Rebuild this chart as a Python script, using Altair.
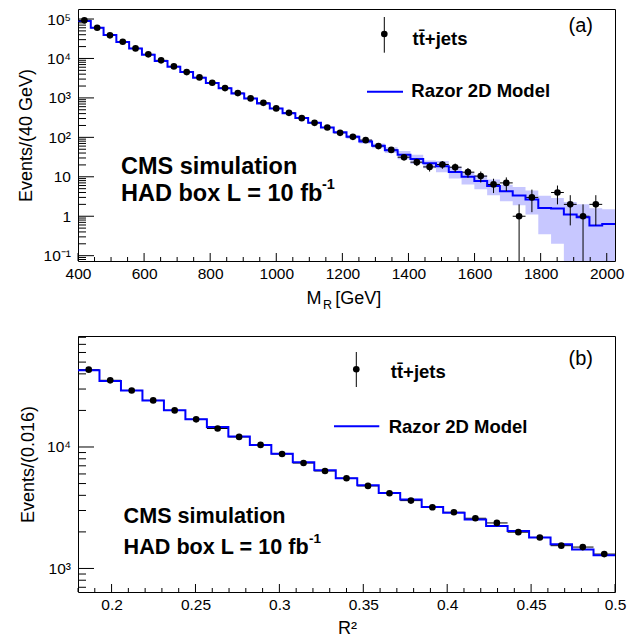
import altair as alt
import pandas as pd
import numpy as np

FONT = "Liberation Sans"
BLUE = "#0000ff"

# ---------------- panel (a): M_R distribution ----------------
mr_range = [400, 2025]
mr_nbins = 42
mr_counts = [92600, 60000, 38500, 26500, 18000, 12700, 8950, 6300, 4520, 3310,
             2415, 1773, 1324, 971, 751, 541, 419, 307, 233, 178,
             130, 103, 85, 60, 48, 31.4, 23.5, 17.8, 20.5, 17.5,
             13.1, 10.4, 6.4, 7, 1, 3, None, 4, 2, 1, 2, None]
mr_model = [89000, 60000, 39300, 26000, 18000, 12400, 8600, 6160, 4520, 3240,
            2400, 1760, 1300, 960, 720, 540, 410, 310, 235, 178,
            135, 103, 79, 61, 47, 36, 28.3, 22, 18.5, 13.3,
            10, 7.8, 5.8, 4.3, 3.35, 2.65, 1.62, 1.57, 1.1, 0.94, 0.58, 0.64]
mr_band_first_bin = 21
mr_band_lo = [92, 70, 53, 40, 28, 21, 16.5, 13, 9, 6.4, 4.8, 3.4, 2.4, 1.9, 1.1,
              0.35, 0.2, 0.05, 0.05, 0.05, 0.05]
mr_band_hi = [115, 90, 70, 56, 45, 36, 26, 25, 18, 13, 11, 8.5, 6.3, 5.5, 4.5,
              3.3, 2.9, 2.3, 2.0, 1.6, 1.5]
mr_xlabels = list(range(400, 2001, 200))
mr_xminor = [v for v in range(400, 2001, 50) if v % 200 != 0]
mr_ydomain = [0.0733, 1.795e5]
mr_ylabels = [0.1, 1, 10, 100, 1000, 10000, 100000]

# ---------------- panel (b): R^2 distribution ----------------
r2_range = [0.18, 0.5]
r2_nbins = 25
r2_counts = [43300, 35400, 29200, 24200, 20000, 16900, 14200, 12100, 10400, 8760,
             7380, 6350, 5530, 4780, 4160, 3620, 3190, 2900, 2590, 2370,
             1990, 1800, 1540, 1500, 1313]
r2_model = [42800, 34900, 29200, 24200, 20100, 16900, 14600, 12200, 10400, 8810,
            7480, 6430, 5530, 4840, 4190, 3690, 3210, 2870, 2530, 2240,
            2030, 1800, 1585, 1430, 1285]
r2_xlabels = [0.2, 0.25, 0.3, 0.35, 0.4, 0.45, 0.5]
r2_xminor = [round(0.18 + 0.01 * i, 2) for i in range(33)
             if abs(round(0.18 + 0.01 * i, 2) * 20 - round((0.18 + 0.01 * i) * 20)) > 1e-6]
r2_ydomain = [640, 82000]
r2_ylabels = [1000, 10000]

W = 537
H_TOP = 252
H_BOT = 256


def log_minor(lo, hi):
    out = []
    for e in range(-3, 7):
        for m in range(2, 10):
            v = m * 10.0 ** e
            if lo <= v <= hi:
                out.append(v)
    return out


def label(txt, x, y, size, bold=False, align="left", baseline="middle"):
    return alt.Chart(pd.DataFrame({"t": [txt]})).mark_text(
        align=align, baseline=baseline, font=FONT, fontSize=size,
        fontWeight="bold" if bold else "normal", color="black"
    ).encode(x=alt.value(x), y=alt.value(y), text="t:N")


def legend_items(mx, my, bar0, bar1, tx, ty, lx0, lx1, ly, mtx, mty):
    one = pd.DataFrame({"a": [0]})
    return [
        alt.Chart(one).mark_rule(color="black", strokeWidth=1).encode(
            x=alt.value(mx), y=alt.value(bar0), y2=alt.value(bar1)),
        alt.Chart(one).mark_circle(size=44, color="black", opacity=1).encode(
            x=alt.value(mx), y=alt.value(my)),
        label("tt\u0304+jets", tx, ty, 18.5, bold=True),
        alt.Chart(one).mark_rule(color=BLUE, strokeWidth=2).encode(
            x=alt.value(lx0), x2=alt.value(lx1), y=alt.value(ly)),
        label("Razor 2D Model", mtx, mty, 18.5, bold=True),
    ]


def panel(H, rng, nb, counts, model, band_first, band_lo, band_hi,
          xlabels, xfmt, xminor, ydom, ylabels, ylabel_expr,
          ytitle, ytitle_x, annotations):
    edges = np.linspace(rng[0], rng[1], nb + 1)
    centers = 0.5 * (edges[:-1] + edges[1:])
    pts = pd.DataFrame({"x": centers, "xl": edges[:-1], "xr": edges[1:],
                        "n": [np.nan if c is None else c for c in counts]}).dropna()
    err = np.sqrt(pts["n"])
    pts["lo"] = np.maximum(pts["n"] - err, ydom[0] * 0.5)
    pts["hi"] = pts["n"] + err
    step = pd.DataFrame({"x": edges, "y": list(model) + [model[-1]]})

    xs = alt.Scale(domain=rng, nice=False, zero=False)
    ys = alt.Scale(type="log", domain=ydom, nice=False)

    x_label_axis = alt.Axis(orient="bottom", values=xlabels, format=xfmt,
                            ticks=False, tickSize=0, domain=False, grid=False,
                            labelPadding=5, labelFontSize=15.5, labelFlush=False,
                            labelOverlap=False, title=None)
    y_label_axis = alt.Axis(orient="left", values=ylabels, labelExpr=ylabel_expr,
                            ticks=False, tickSize=0, domain=False, grid=False,
                            labelPadding=7.5, labelFontSize=15.5, labelOverlap=False,
                            title=ytitle, titleFontSize=18, titleFontWeight="normal",
                            titleX=ytitle_x, titleY=H / 2, titleAlign="center",
                            titleBaseline="middle", titleAngle=270)

    layers = []
    if band_lo:
        bedges = edges[band_first:]
        band = pd.DataFrame({"x": bedges, "lo": list(band_lo) + [band_lo[-1]],
                             "hi": list(band_hi) + [band_hi[-1]]})
        layers.append(alt.Chart(band).mark_area(
            interpolate="step-after", color=BLUE, opacity=0.22, clip=True
        ).encode(x=alt.X("x:Q", scale=xs, axis=None),
                 y=alt.Y("lo:Q", scale=ys, axis=None), y2="hi:Q"))
    layers.append(alt.Chart(pts).mark_rule(color="black", strokeWidth=1, clip=True).encode(
        x=alt.X("xl:Q", scale=xs, axis=None), x2="xr:Q",
        y=alt.Y("n:Q", scale=ys, axis=None)))
    layers.append(alt.Chart(step).mark_line(
        interpolate="step-after", color=BLUE, strokeWidth=2, clip=True
    ).encode(x=alt.X("x:Q", scale=xs, axis=x_label_axis),
             y=alt.Y("y:Q", scale=ys, axis=y_label_axis)))
    layers.append(alt.Chart(pts).mark_rule(color="black", strokeWidth=1, clip=True).encode(
        x=alt.X("x:Q", scale=xs, axis=None),
        y=alt.Y("lo:Q", scale=ys, axis=None), y2="hi:Q"))
    layers.append(alt.Chart(pts).mark_circle(size=44, color="black", opacity=1).encode(
        x=alt.X("x:Q", scale=xs, axis=None),
        y=alt.Y("n:Q", scale=ys, axis=None)))

    # inward-pointing axis ticks (ROOT style)
    for vals, size in ((xlabels, 8), (xminor, 4)):
        layers.append(alt.Chart(pd.DataFrame({"v": vals})).mark_rule(
            color="black", strokeWidth=1).encode(
            x=alt.X("v:Q", scale=xs, axis=None),
            y=alt.value(H), y2=alt.value(H - size)))
    for vals, size in ((ylabels, 16), (log_minor(ydom[0], ydom[1]), 8)):
        layers.append(alt.Chart(pd.DataFrame({"v": vals})).mark_rule(
            color="black", strokeWidth=1).encode(
            y=alt.Y("v:Q", scale=ys, axis=None),
            x=alt.value(0), x2=alt.value(size)))

    layers.extend(annotations)
    return alt.layer(*layers).resolve_scale(x="independent", y="independent").properties(
        width=W, height=H)


top_ann = legend_items(306.3, 25, 8, 43.7, 334.5, 29.7, 289, 325, 82.7, 333.3, 82) + [
    label("(a)", 502.7, 17, 20, align="center"),
    label("CMS simulation", 43, 157.8, 23.5, bold=True),
    label("HAD box L = 10 fb", 43, 184.5, 23.5, bold=True),
    label("-1", 244, 176, 14.5, bold=True),
    label("M", 228.5, 295.3, 18, baseline="alphabetic"),
    label("R", 245, 300.3, 12.5, baseline="alphabetic"),
    label("[GeV]", 257.3, 295.3, 18, baseline="alphabetic"),
]
bot_ann = legend_items(278.3, 33.3, 16, 51, 312.8, 36, 256, 301.3, 90.3, 310.7, 91) + [
    label("(b)", 502.7, 22.6, 20, align="center"),
    label("CMS simulation", 45.6, 181.3, 21.6, bold=True),
    label("HAD box L = 10 fb", 45.6, 211.8, 21.6, bold=True),
    label("-1", 231, 202.5, 13.5, bold=True),
    label("R\u00b2", 269.6, 297.6, 18, align="center", baseline="alphabetic"),
]

top = panel(H_TOP, mr_range, mr_nbins, mr_counts, mr_model, mr_band_first_bin,
            mr_band_lo, mr_band_hi, mr_xlabels, "d", mr_xminor,
            mr_ydomain, mr_ylabels,
            "datum.value < 0.5 ? '10\u207b\u00b9' : datum.value < 5 ? '1' : "
            "datum.value < 50 ? '10' : datum.value < 500 ? '10\u00b2' : "
            "datum.value < 5000 ? '10\u00b3' : datum.value < 50000 ? '10\u2074' : '10\u2075'",
            "Events/(40 GeV)", -52, top_ann)

bottom = panel(H_BOT, r2_range, r2_nbins, r2_counts, r2_model, 0, None, None,
               r2_xlabels, ".2~f", r2_xminor,
               r2_ydomain, r2_ylabels,
               "datum.value < 5000 ? '10\u00b3' : '10\u2074'",
               "Events/(0.016)", -50, bot_ann)

chart = alt.vconcat(top, bottom, spacing=22).properties(
    padding={"left": 8, "top": 0, "right": 0, "bottom": 0},
    background="white",
).configure_view(stroke="black", strokeWidth=1).configure_axis(
    labelFont=FONT, titleFont=FONT, labelColor="black", titleColor="black")

chart.save("out.html", embed_options={"renderer": "svg", "actions": False})
